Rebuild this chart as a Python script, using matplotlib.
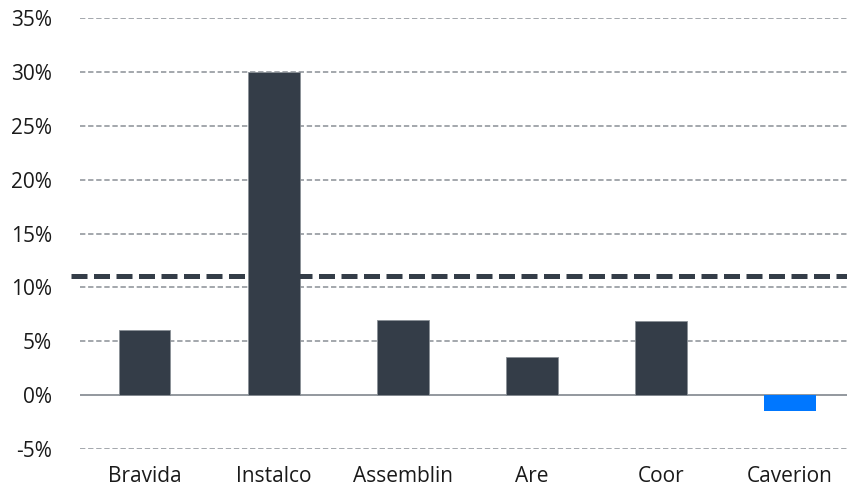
import matplotlib.pyplot as plt

plt.rcParams['font.family'] = ['Open Sans', 'DejaVu Sans']

# Data
companies = ['Bravida', 'Instalco', 'Assemblin', 'Are', 'Coor', 'Caverion']
returns = [6.0, 30.0, 7.0, 3.5, 6.9, -1.5]
average = 11.1
yticks = [-5, 0, 5, 10, 15, 20, 25, 30, 35]

dark = '#343d48'
blue = '#0077ff'
grid_gray = '#8a9096'

fig = plt.figure(figsize=(8.47, 4.91), dpi=100)
ax = fig.add_axes([80 / 847, 42 / 491, 767 / 847, 431 / 491])

x = list(range(len(companies)))
colors = [blue if c == 'Caverion' else dark for c in companies]
edges = ['none' if c == 'Caverion' else '#8a9096' for c in companies]
ax.bar(x, returns, width=0.40, color=colors, edgecolor=edges, linewidth=0.6, zorder=3)

# dashed gridlines (skip zero, which is solid)
for t in yticks:
    if t == 0:
        ax.axhline(0, color=grid_gray, linewidth=1.3, zorder=2)
    else:
        ax.axhline(t, color=grid_gray, linewidth=1.1, linestyle=(0, (3.5, 1.8)), zorder=1)

# average line
ax.axhline(average, xmin=-0.012, xmax=1, color=dark, linewidth=3.6,
           linestyle=(0, (3.2, 1.3)), zorder=4, clip_on=False)

ax.set_xlim(-0.5, 5.44)
ax.set_ylim(-5, 35)
ax.set_yticks(yticks)
ax.set_yticklabels([f'{t}%' for t in yticks])
ax.set_xticks(x)
ax.set_xticklabels(companies)

for s in ax.spines.values():
    s.set_visible(False)
ax.tick_params(axis='both', length=0, labelsize=15, colors='#1a1a1a')
ax.tick_params(axis='y', pad=20)
ax.tick_params(axis='x', pad=12)

fig.savefig('out.png', dpi=100)
